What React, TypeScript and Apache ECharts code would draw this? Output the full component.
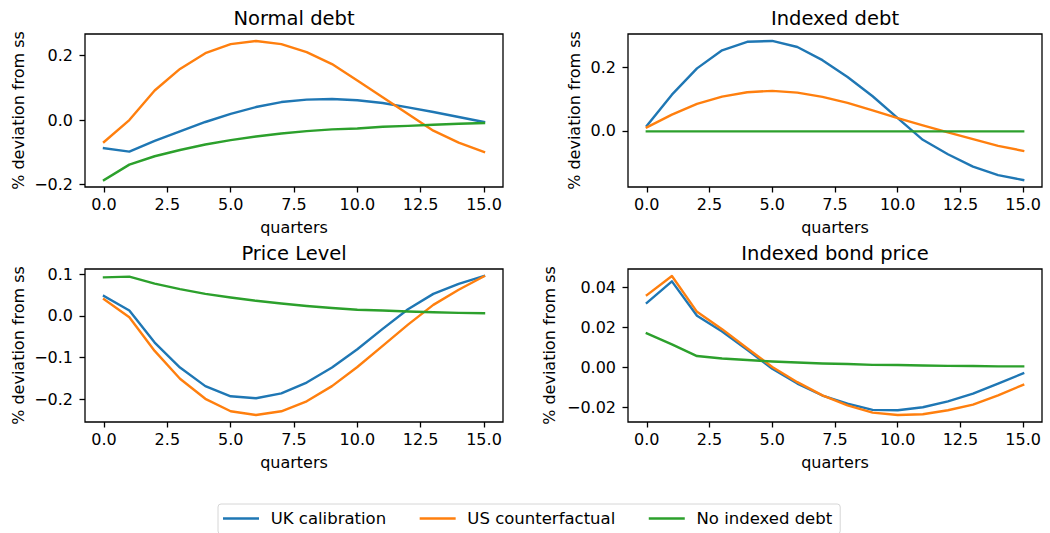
import React, { useEffect, useRef } from "react";
import * as echarts from "echarts";

const quarters = [0, 1, 2, 3, 4, 5, 6, 7, 8, 9, 10, 11, 12, 13, 14, 15];
const seriesNames = ["UK calibration", "US counterfactual", "No indexed debt"];
const seriesColors = ["#1f77b4", "#ff7f0e", "#2ca02c"];
const panelTitles = ["Normal debt", "Indexed debt", "Price Level", "Indexed bond price"];

// Normal debt
const normalDebtUK = [-0.0875, -0.098, -0.065, -0.035, -0.006, 0.019, 0.0405, 0.056, 0.0635, 0.0655, 0.0615, 0.053, 0.0395, 0.025, 0.0095, -0.006];
const normalDebtUS = [-0.068, 0.0, 0.092, 0.159, 0.208, 0.236, 0.246, 0.236, 0.211, 0.174, 0.123, 0.071, 0.019, -0.033, -0.07, -0.099];
const normalDebtNo = [-0.1865, -0.1385, -0.1125, -0.093, -0.076, -0.0625, -0.051, -0.0417, -0.0344, -0.029, -0.026, -0.021, -0.018, -0.0146, -0.0115, -0.0094];

// Indexed debt
const indexedDebtUK = [0.016, 0.114, 0.197, 0.254, 0.281, 0.2836, 0.2646, 0.223, 0.17, 0.109, 0.04, -0.0286, -0.074, -0.113, -0.14, -0.1556];
const indexedDebtUS = [0.0106, 0.051, 0.085, 0.108, 0.1217, 0.126, 0.1206, 0.107, 0.088, 0.0646, 0.04, 0.017, -0.0053, -0.0265, -0.0476, -0.0635];
const indexedDebtNo = [-0.002, -0.002, -0.002, -0.002, -0.002, -0.002, -0.002, -0.002, -0.002, -0.002, -0.002, -0.002, -0.002, -0.002, -0.002, -0.002];

// Price level
const priceUK = [0.048, 0.013, -0.064, -0.124, -0.1685, -0.193, -0.1976, -0.186, -0.16, -0.124, -0.08, -0.031, 0.016, 0.053, 0.077, 0.096];
const priceUS = [0.04, -0.003, -0.084, -0.151, -0.199, -0.229, -0.238, -0.229, -0.205, -0.1685, -0.1226, -0.072, -0.021, 0.0266, 0.063, 0.095];
const priceNo = [0.0927, 0.0944, 0.0774, 0.0645, 0.053, 0.0444, 0.0363, 0.03, 0.024, 0.019, 0.015, 0.013, 0.0105, 0.0089, 0.0073, 0.0065];

// Indexed bond price
const bondUK = [0.0324, 0.0432, 0.0259, 0.018, 0.0089, -0.0007, -0.0081, -0.0141, -0.0182, -0.0213, -0.0215, -0.02, -0.017, -0.0131, -0.0081, -0.003];
const bondUS = [0.0363, 0.0459, 0.0279, 0.0192, 0.0096, 0.0002, -0.0074, -0.014, -0.019, -0.0227, -0.0239, -0.0235, -0.0215, -0.0187, -0.014, -0.0087];
const bondNo = [0.0171, 0.0116, 0.0057, 0.0045, 0.0037, 0.003, 0.0025, 0.002, 0.0017, 0.0013, 0.0012, 0.001, 0.0008, 0.0007, 0.0005, 0.0005];

const xTicks = [0, 2.5, 5, 7.5, 10, 12.5, 15];
const yTicksNormal = [-0.2, 0, 0.2];
const yTicksIndexed = [0, 0.2];
const yTicksPrice = [-0.2, -0.1, 0, 0.1];
const yTicksBond = [-0.02, 0, 0.02, 0.04];

const panelData = [
  [normalDebtUK, normalDebtUS, normalDebtNo],
  [indexedDebtUK, indexedDebtUS, indexedDebtNo],
  [priceUK, priceUS, priceNo],
  [bondUK, bondUS, bondNo],
];
const panelYTicks = [yTicksNormal, yTicksIndexed, yTicksPrice, yTicksBond];
const panelYDecimals = [1, 1, 1, 2];

const FONT = "DejaVu Sans";

const grids = [
  { left: 85, top: 34, width: 418, height: 153 },
  { left: 628, top: 34, width: 414, height: 153 },
  { left: 85, top: 269, width: 418, height: 153 },
  { left: 628, top: 269, width: 414, height: 153 },
];
const yLabelX = [18.5, 574, 18.5, 549.5];

function fmt(v: number, d: number): string {
  const s = Math.abs(v).toFixed(d);
  return (v < -1e-12 ? "\u2212" : "") + s;
}

function autoRange(arrs: number[][]): [number, number] {
  let mn = Infinity;
  let mx = -Infinity;
  arrs.forEach((a) => a.forEach((v) => { mn = Math.min(mn, v); mx = Math.max(mx, v); }));
  const pad = (mx - mn) * 0.05;
  return [mn - pad, mx + pad];
}

function buildOption() {
  const xAxis: any[] = [];
  const yAxis: any[] = [];
  const series: any[] = [];
  const graphic: any[] = [];

  grids.forEach((g, p) => {
    const [ymin, ymax] = autoRange(panelData[p]);
    const dec = panelYDecimals[p];
    xAxis.push({
      type: "value",
      gridIndex: p,
      min: -0.75,
      max: 15.75,
      splitLine: { show: false },
      axisLine: { show: false, onZero: false },
      axisTick: { show: true, inside: false, length: 5.5, customValues: xTicks, lineStyle: { color: "#000", width: 1.3 } },
      axisLabel: {
        customValues: xTicks,
        formatter: (v: number) => fmt(v, 1),
        fontFamily: FONT,
        fontSize: 16,
        color: "#000",
        margin: 9,
      },
    });
    yAxis.push({
      type: "value",
      gridIndex: p,
      min: ymin,
      max: ymax,
      splitLine: { show: false },
      axisLine: { show: false, onZero: false },
      axisTick: { show: true, inside: false, length: 5.5, customValues: panelYTicks[p], lineStyle: { color: "#000", width: 1.3 } },
      axisLabel: {
        customValues: panelYTicks[p],
        formatter: (v: number) => fmt(v, dec),
        fontFamily: FONT,
        fontSize: 16,
        color: "#000",
        margin: 12,
      },
    });
    panelData[p].forEach((arr, s) => {
      series.push({
        type: "line",
        name: seriesNames[s],
        xAxisIndex: p,
        yAxisIndex: p,
        data: quarters.map((q, i) => [q, arr[i]]),
        showSymbol: false,
        symbol: "none",
        color: seriesColors[s],
        lineStyle: { width: 2.4, color: seriesColors[s], join: "round", cap: "square" },
        z: 2 + s,
      });
    });
    const cx = g.left + g.width / 2;
    const cy = g.top + g.height / 2;
    graphic.push({
      type: "text",
      x: cx,
      y: g.top - 16,
      style: { text: panelTitles[p], fontFamily: FONT, fontSize: 19.5, fill: "#000", align: "center", verticalAlign: "middle" },
    });
    graphic.push({
      type: "text",
      x: cx,
      y: g.top + g.height + 40,
      style: { text: "quarters", fontFamily: FONT, fontSize: 16, fill: "#000", align: "center", verticalAlign: "middle" },
    });
    graphic.push({
      type: "text",
      x: yLabelX[p],
      y: cy,
      rotation: Math.PI / 2,
      style: { text: "% deviation from ss", fontFamily: FONT, fontSize: 16, fill: "#000", align: "center", verticalAlign: "middle" },
    });
  });

  return {
    animation: false,
    backgroundColor: "#fff",
    grid: grids.map((g) => ({ ...g, show: true, borderColor: "#000", borderWidth: 1.3, backgroundColor: "transparent", containLabel: false })),
    xAxis,
    yAxis,
    series,
    graphic,
    legend: {
      data: seriesNames,
      left: 218,
      top: 504,
      orient: "horizontal",
      icon: "rect",
      itemWidth: 36,
      itemHeight: 2.4,
      itemGap: 33.5,
      padding: [5, 8, 6, 5],
      borderColor: "#d6d6d6",
      borderWidth: 1,
      borderRadius: 3,
      selectedMode: false,
      textStyle: { fontFamily: FONT, fontSize: 16.5, color: "#000", lineHeight: 19, padding: [0, 0, 0, 6.7] },
    },
  };
}

export default function App() {
  const ref = useRef<HTMLDivElement>(null);
  useEffect(() => {
    if (!ref.current) return;
    const chart = echarts.init(ref.current, undefined, { renderer: "svg" });
    chart.setOption(buildOption() as any);
    return () => chart.dispose();
  }, []);
  return (
    <div
      ref={ref}
      style={{ position: "fixed", left: 0, top: 0, width: 1050, height: 533, background: "#fff" }}
    />
  );
}
